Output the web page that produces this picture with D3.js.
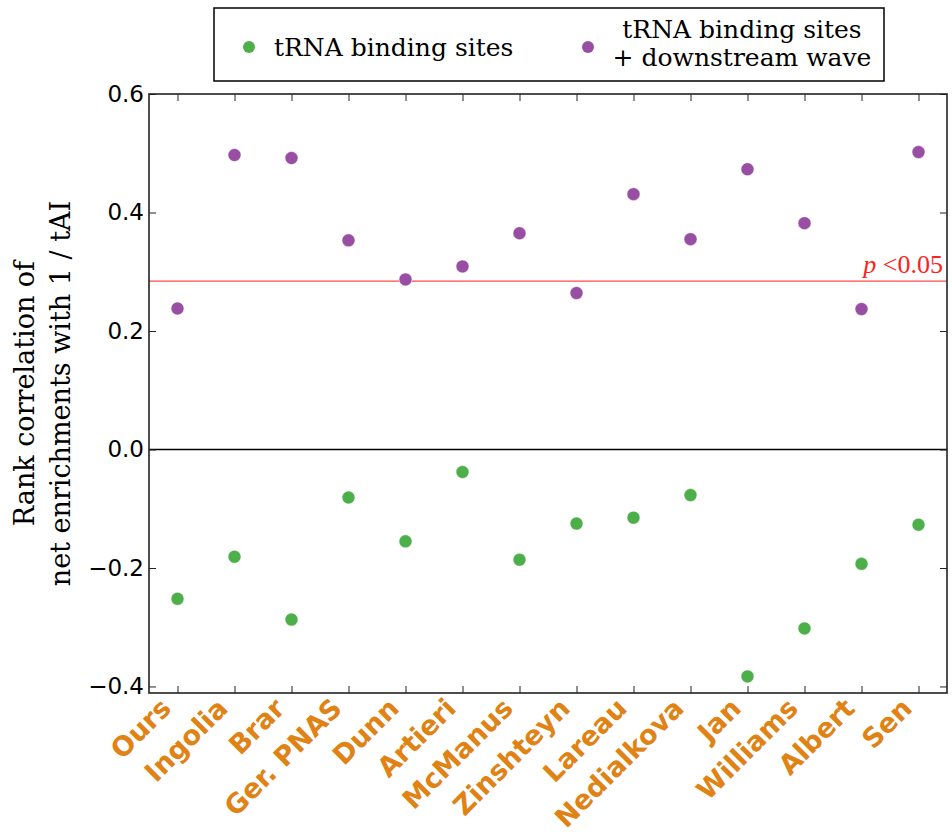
<!DOCTYPE html>
<html>
<head>
<meta charset="utf-8">
<script src="https://cdn.jsdelivr.net/npm/d3@7"></script>
<style>
  html, body { margin: 0; padding: 0; background: #fff; }
  svg { display: block; }
</style>
</head>
<body>
<svg id="chart" width="952" height="835"></svg>
<script>
const categories = ["Ours","Ingolia","Brar","Ger. PNAS","Dunn","Artieri","McManus","Zinshteyn","Lareau","Nedialkova","Jan","Williams","Albert","Sen"];
const trnaSites = [-0.252,-0.181,-0.287,-0.081,-0.155,-0.038,-0.186,-0.125,-0.115,-0.077,-0.383,-0.302,-0.193,-0.127];
const trnaWave = [0.238,0.497,0.492,0.353,0.287,0.309,0.365,0.264,0.431,0.355,0.473,0.382,0.237,0.502];
const threshold = 0.284;
const yTicks = [-0.4,-0.2,0.0,0.2,0.4,0.6];
const seriesNames = ["tRNA binding sites", ["tRNA binding sites", "+ downstream wave"]];
const seriesColors = ["#4daf4a", "#984ea3"];
const labelColor = "#e08214";

const svg = d3.select("#chart");
const L = 149, R = 947, T = 94, B = 693;

const x = d3.scaleLinear().domain([-0.5, categories.length - 0.5]).range([L, R]);
const y = d3.scaleLinear().domain([-0.411, 0.6]).range([B, T]);
const idx = d3.range(categories.length);

// zero line
svg.append("line").attr("x1", L).attr("x2", R).attr("y1", y(0)).attr("y2", y(0))
  .attr("stroke", "#000").attr("stroke-width", 1.5);

// threshold line
svg.append("line").attr("x1", L).attr("x2", R).attr("y1", y(threshold)).attr("y2", y(threshold))
  .attr("stroke", "#ff4a4a").attr("stroke-width", 1.2);

const pLabel = svg.append("text").attr("x", R - 4).attr("y", y(threshold) - 8)
  .attr("text-anchor", "end").attr("fill", "#ff2020")
  .style("font-family", "'Liberation Serif', serif").style("font-size", "26px");
pLabel.append("tspan").style("font-style", "italic").text("p");
pLabel.append("tspan").text(" <0.05");

// points
[trnaSites, trnaWave].forEach((vals, s) => {
  svg.append("g").selectAll("circle").data(idx).join("circle")
    .attr("cx", i => x(i)).attr("cy", i => y(vals[i])).attr("r", 6.5)
    .attr("fill", seriesColors[s]).attr("stroke", "#fff").attr("stroke-width", 0.5);
});

// axes
const fmt = d3.format(".1f");
const axL = svg.append("g").attr("transform", `translate(${L},0)`)
  .call(d3.axisLeft(y).tickValues(yTicks).tickFormat(fmt).tickSizeInner(-7).tickSizeOuter(0).tickPadding(5));
const axR = svg.append("g").attr("transform", `translate(${R},0)`)
  .call(d3.axisRight(y).tickValues(yTicks).tickFormat("").tickSizeInner(-7).tickSizeOuter(0));
const axB = svg.append("g").attr("transform", `translate(0,${B})`)
  .call(d3.axisBottom(x).tickValues(idx).tickFormat("").tickSizeInner(-7).tickSizeOuter(0));
const axT = svg.append("g").attr("transform", `translate(0,${T})`)
  .call(d3.axisTop(x).tickValues(idx).tickFormat("").tickSizeInner(-7).tickSizeOuter(0));
[axL, axR, axB, axT].forEach(g => {
  g.select(".domain").remove();
  g.selectAll(".tick line").attr("stroke", "#222").attr("stroke-width", 1);
});
axL.selectAll(".tick text").attr("fill", "#000")
  .style("font-family", "'DejaVu Sans', sans-serif").style("font-size", "23px");

// frame
svg.append("rect").attr("x", L).attr("y", T).attr("width", R - L).attr("height", B - T)
  .attr("fill", "none").attr("stroke", "#222").attr("stroke-width", 1.6);

// x labels
svg.append("g").selectAll("text").data(idx).join("text")
  .attr("transform", i => `translate(${x(i) - 5},${B + 17}) rotate(-45)`)
  .attr("text-anchor", "end").attr("fill", labelColor)
  .style("font-family", "'DejaVu Sans', sans-serif").style("font-weight", "bold").style("font-size", "27px")
  .text(i => categories[i]);

// y label
const yl = svg.append("text").attr("transform", `translate(0,${(T + B) / 2}) rotate(-90)`)
  .attr("text-anchor", "middle").attr("fill", "#000")
  .style("font-family", "'DejaVu Serif', serif").style("font-size", "27px");
yl.append("tspan").attr("x", 0).attr("y", 34).text("Rank correlation of");
yl.append("tspan").attr("x", 0).attr("y", 70).text("net enrichments with 1 / tAI");

// legend
const lg = svg.append("g");
lg.append("rect").attr("x", 214).attr("y", 8).attr("width", 670).attr("height", 73)
  .attr("fill", "#fff").attr("stroke", "#000").attr("stroke-width", 1.5);
lg.append("circle").attr("cx", 249).attr("cy", 47).attr("r", 6).attr("fill", seriesColors[0]);
lg.append("text").attr("x", 274).attr("y", 47).attr("dy", "0.35em")
  .style("font-family", "'DejaVu Serif', serif").style("font-size", "25px").text(seriesNames[0]);
lg.append("circle").attr("cx", 588).attr("cy", 47).attr("r", 6).attr("fill", seriesColors[1]);
const lt = lg.append("text").attr("text-anchor", "middle")
  .style("font-family", "'DejaVu Serif', serif").style("font-size", "25px");
lt.append("tspan").attr("x", 742).attr("y", 38).text(seriesNames[1][0]);
lt.append("tspan").attr("x", 742).attr("y", 66).text(seriesNames[1][1]);
</script>
</body>
</html>
